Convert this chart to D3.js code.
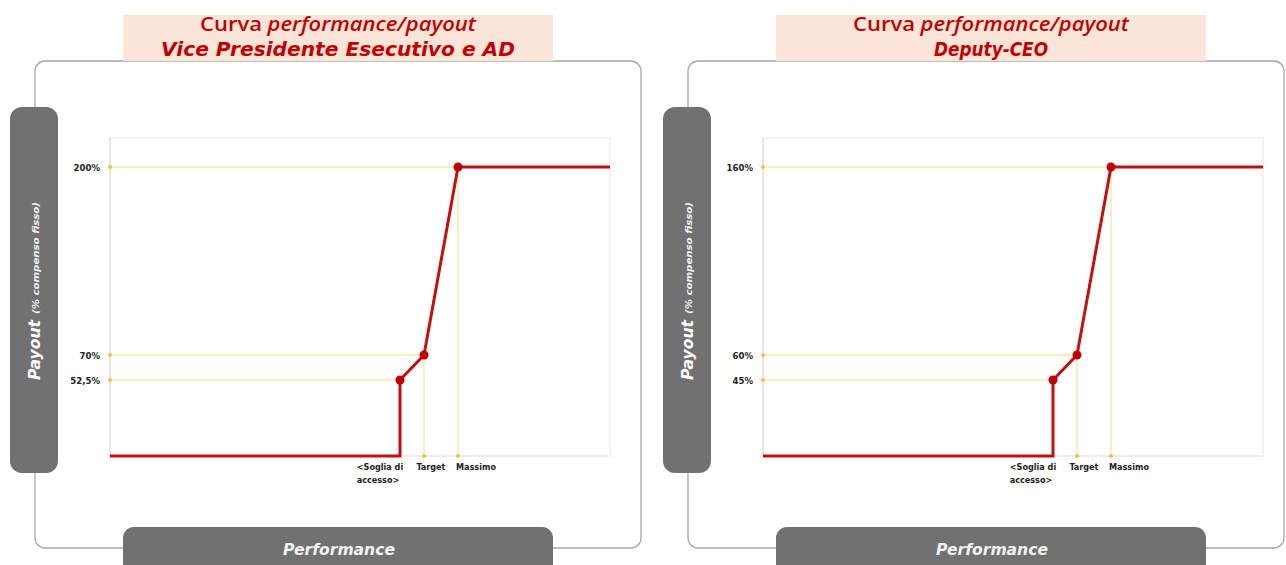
<!DOCTYPE html>
<html>
<head>
<meta charset="utf-8">
<script src="https://cdn.jsdelivr.net/npm/d3@7"></script>
<style>
  html, body { margin: 0; padding: 0; background: #ffffff; }
  svg { display: block; }
</style>
</head>
<body>
<svg id="chart" width="1286" height="565"></svg>
<script>
// ---- Data ----
const performanceLevels = ["<Soglia di accesso>", "Target", "Massimo"];
const performanceValues = [58, 62.8, 69.6];          // relative performance (0-100 scale)
const performanceRange = [0, 100];

const titleLine1Plain = "Curva ";
const titleLine1Italic = "performance/payout";
const panelTitles = ["Vice Presidente Esecutivo e AD", "Deputy-CEO"];

const payoutVP = [52.5, 70, 200];
const payoutDeputy = [45, 60, 160];
const tickLabelsVP = ["52,5%", "70%", "200%"];
const tickLabelsDeputy = ["45%", "60%", "160%"];

const yAxisTitle = "Payout";
const yAxisSubtitle = "(% compenso fisso)";
const xAxisTitle = "Performance";

// ---- Drawing ----
const svg = d3.select("#chart");
const RED = "#c00000";
const GUIDE = "#f7dc8a";
const GUIDE_DOT = "#f2c23c";
const FONT = "'DejaVu Sans', 'Open Sans', sans-serif";

function drawPanel(offsetX, title, titleWidth, payouts, tickLabels, outerW) {
  const g = svg.append("g").attr("transform", `translate(${offsetX},0)`);

  // outer rounded frame
  g.append("rect")
    .attr("x", 35).attr("y", 61).attr("width", outerW).attr("height", 487)
    .attr("rx", 10).attr("fill", "#fff").attr("stroke", "#a6a6a6").attr("stroke-width", 1.3);

  // title box
  g.append("rect")
    .attr("x", 123).attr("y", 15).attr("width", 430).attr("height", 46)
    .attr("fill", "#fbe5d9");
  const t1 = g.append("text")
    .attr("x", 338).attr("y", 31).attr("text-anchor", "middle")
    .attr("font-family", "'Open Sans', 'DejaVu Sans', sans-serif")
    .attr("font-size", 19).attr("font-weight", 600).attr("fill", RED)
    .attr("textLength", 276).attr("lengthAdjust", "spacingAndGlyphs");
  t1.append("tspan").text(titleLine1Plain);
  t1.append("tspan").attr("font-style", "italic").text(titleLine1Italic);
  g.append("text")
    .attr("x", 338).attr("y", 56).attr("text-anchor", "middle")
    .attr("font-family", FONT)
    .attr("font-size", 19).attr("font-weight", 700).attr("font-style", "italic")
    .attr("fill", RED)
    .attr("textLength", titleWidth).attr("lengthAdjust", "spacingAndGlyphs")
    .text(title);

  // y-axis pill
  g.append("rect")
    .attr("x", 10).attr("y", 107).attr("width", 48).attr("height", 366)
    .attr("rx", 12).attr("fill", "#717171");
  g.append("text")
    .attr("transform", "translate(40,380) rotate(-90)")
    .attr("text-anchor", "start")
    .attr("font-family", FONT).attr("font-size", 16).attr("font-weight", 700).attr("font-style", "italic")
    .attr("fill", "#fff")
    .attr("textLength", 60).attr("lengthAdjust", "spacingAndGlyphs")
    .text(yAxisTitle);
  g.append("text")
    .attr("transform", "translate(39,314) rotate(-90)")
    .attr("text-anchor", "start")
    .attr("font-family", FONT).attr("font-size", 8).attr("font-weight", 700).attr("font-style", "italic")
    .attr("fill", "#f0f0f0")
    .attr("textLength", 112).attr("lengthAdjust", "spacingAndGlyphs")
    .text(yAxisSubtitle);

  // bottom pill
  g.append("rect")
    .attr("x", 123).attr("y", 527).attr("width", 430).attr("height", 60)
    .attr("rx", 11).attr("fill", "#717171");
  g.append("text")
    .attr("x", 339).attr("y", 555).attr("text-anchor", "middle")
    .attr("font-family", FONT)
    .attr("font-size", 16).attr("font-weight", 700).attr("font-style", "italic")
    .attr("fill", "#f2f2f2")
    .attr("textLength", 112).attr("lengthAdjust", "spacingAndGlyphs")
    .text(xAxisTitle);

  // plot area
  const left = 110, right = 610, top = 138, bottom = 456;
  const x = d3.scaleLinear().domain(performanceRange).range([left, right]);
  // schematic (piecewise) payout scale
  const y = d3.scaleLinear()
    .domain([0, payouts[0], payouts[1], payouts[2]])
    .range([bottom, bottom - 76, bottom - 101, bottom - 289]);

  // plot frame
  g.append("rect")
    .attr("x", left).attr("y", top).attr("width", right - left).attr("height", bottom - top)
    .attr("fill", "none").attr("stroke", "#ececec").attr("stroke-width", 1.2);
  g.append("line")
    .attr("x1", left).attr("x2", left).attr("y1", top).attr("y2", bottom)
    .attr("stroke", "#e2e2e2").attr("stroke-width", 1.5);
  g.append("line")
    .attr("x1", left).attr("x2", right).attr("y1", bottom).attr("y2", bottom)
    .attr("stroke", "#dddddd").attr("stroke-width", 1.2).attr("stroke-dasharray", "2,2");

  const pts = performanceValues.map((p, i) => ({ p, v: payouts[i], label: tickLabels[i] }));

  // guide lines
  pts.forEach((d, i) => {
    g.append("line")
      .attr("x1", x(0)).attr("x2", x(d.p)).attr("y1", y(d.v)).attr("y2", y(d.v))
      .attr("stroke", GUIDE).attr("stroke-width", 1);
    if (i > 0) {
      g.append("line")
        .attr("x1", x(d.p)).attr("x2", x(d.p)).attr("y1", y(d.v)).attr("y2", y(0))
        .attr("stroke", GUIDE).attr("stroke-width", 1);
      g.append("circle").attr("cx", x(d.p)).attr("cy", y(0)).attr("r", 2).attr("fill", GUIDE_DOT);
    }
    g.append("circle").attr("cx", x(0)).attr("cy", y(d.v)).attr("r", 2).attr("fill", GUIDE_DOT);
  });

  // y tick labels
  const fontT = "'DejaVu Sans Condensed', 'DejaVu Sans', sans-serif";
  g.selectAll(".ylab").data(pts).enter().append("text")
    .attr("x", left - 10).attr("y", d => y(d.v) + 3.5)
    .attr("text-anchor", "end")
    .attr("font-family", fontT)
    .attr("font-size", 9.5).attr("font-weight", 700).attr("fill", "#222")
    .text(d => d.label);

  // x labels
  const xl0 = g.append("text")
    .attr("y", 470).attr("text-anchor", "middle")
    .attr("font-family", fontT).attr("font-size", 9).attr("font-weight", 700).attr("fill", "#222");
  const words = performanceLevels[0].split(" ");
  xl0.append("tspan").attr("x", x(performanceValues[0]) - 20).attr("dy", 0).text(words[0] + " " + words[1]);
  xl0.append("tspan").attr("x", x(performanceValues[0]) - 22).attr("dy", 12.5).text(words[2]);
  g.append("text")
    .attr("x", x(performanceValues[1]) + 7).attr("y", 470).attr("text-anchor", "middle")
    .attr("font-family", fontT).attr("font-size", 9).attr("font-weight", 700).attr("fill", "#222")
    .text(performanceLevels[1]);
  g.append("text")
    .attr("x", x(performanceValues[2]) + 18).attr("y", 470).attr("text-anchor", "middle")
    .attr("font-family", fontT).attr("font-size", 9).attr("font-weight", 700).attr("fill", "#222")
    .text(performanceLevels[2]);

  // payout curve
  const curve = [
    { p: performanceRange[0], v: 0 },
    { p: performanceValues[0], v: 0 },
    { p: performanceValues[0], v: payouts[0] },
    { p: performanceValues[1], v: payouts[1] },
    { p: performanceValues[2], v: payouts[2] },
    { p: performanceRange[1], v: payouts[2] }
  ];
  const line = d3.line().x(d => x(d.p)).y(d => y(d.v));
  g.append("path").datum(curve)
    .attr("d", line).attr("fill", "none")
    .attr("stroke", "#c21010").attr("stroke-width", 3).attr("stroke-linejoin", "miter");

  g.selectAll(".pt").data(pts).enter().append("circle")
    .attr("cx", d => x(d.p)).attr("cy", d => y(d.v)).attr("r", 4.5).attr("fill", RED);
}

drawPanel(0, panelTitles[0], 354, payoutVP, tickLabelsVP, 606);
drawPanel(653, panelTitles[1], 114, payoutDeputy, tickLabelsDeputy, 596);
</script>
</body>
</html>
